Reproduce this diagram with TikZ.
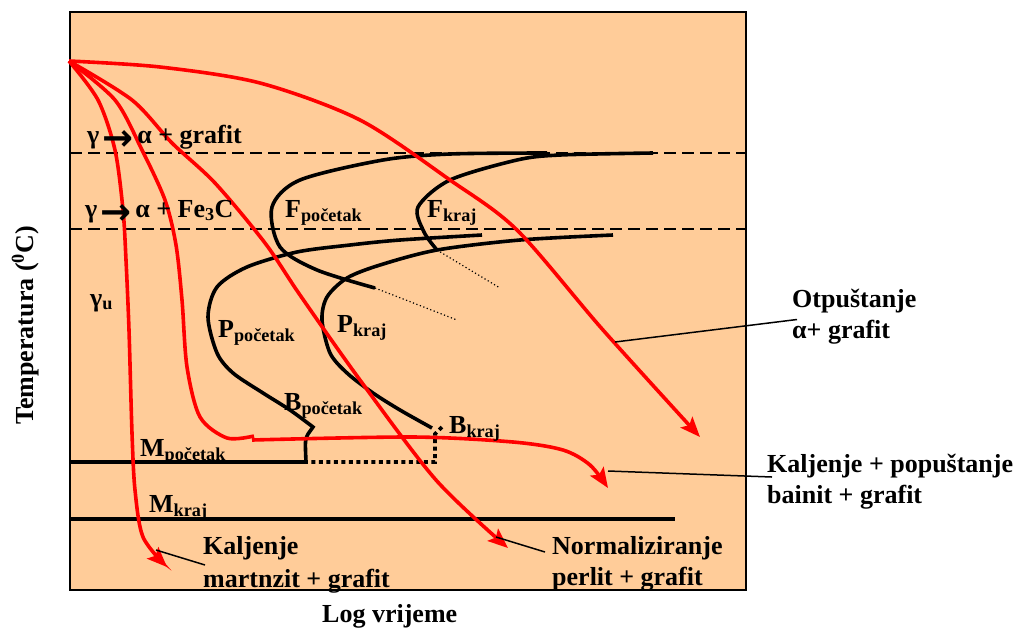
\documentclass[tikz,border=0pt]{standalone}
\usepackage{fontspec}
\setmainfont{Liberation Serif}
\newfontfamily\arrowfont{DejaVu Sans}
\usetikzlibrary{calc,arrows.meta}
\definecolor{peach}{RGB}{255,204,153}
\newcommand{\goesto}{\kern3pt\raisebox{-7pt}{\arrowfont\fontsize{37}{37}\selectfont →}\kern4pt}

\begin{document}
\begin{tikzpicture}[x=1pt,y=-1pt,
  lbl/.style={font=\bfseries\fontsize{26}{31}\selectfont,inner sep=0pt,anchor=base west},
  curve/.style={line width=3.6pt},
  cooling/.style={red,line width=3.6pt},
  cool/.style={cooling,-{Stealth[length=20pt,width=16pt,inset=4pt]}},
  leader/.style={line width=1.5pt},
  border/.style={line width=2.2pt,dash pattern=on 12pt off 6pt}]
\useasboundingbox (0,0) rectangle (1022,630);
\filldraw [fill=peach,line width=1.7pt] (70,12) rectangle (746,590);
\draw [border] (70,153) -- (746,153);
\draw [border] (70,229) -- (746,229);
% ferrit
\draw [curve] plot[smooth] coordinates {(547,153) (450,154) (383,160) (300,180) (272,207) (280,247) (317,270) (375,288)};
\draw [line width=1.2pt,dash pattern=on 1.2pt off 2.5pt] (375,288) -- (457,320);
\draw [curve] plot[smooth] coordinates {(653,153) (560,155) (517,160) (450,180) (418,207) (424,232) (437,250)};
\draw [line width=1.2pt,dash pattern=on 1.2pt off 2.5pt] (437,250) -- (500,288);
% perlit, bainit, martenzit
\draw [curve] plot[smooth] coordinates {(482,235) (400,240) (350,245) (297,252) (247,267) (217,287) (208,317) (217,353) (233,373) (263,393) (290,410) (313,427)}
  -- (308,434) .. controls (305,440) .. (306,462) -- (70,462);
\draw [curve] plot[smooth] coordinates {(613,235) (520,240) (437,250) (380,265) (347,278) (327,297) (322,320) (330,353) (347,373) (373,393) (400,410) (432,428)};
\draw [line width=3.6pt,dash pattern=on 4pt off 3.5pt] (442,427) -- (435,434) -- (435,462) -- (306,462);
\draw [curve] (70,519) -- (675,519);
% hladjenje
\draw [cool] plot[smooth] coordinates {(69,61) (160,67) (260,83) (360,120) (450,180) (517,230) (603,330) (700,437)};
\draw [cool] plot[smooth] coordinates {(69,61) (132,100) (172,143) (215,183) (265,243) (300,295) (360,380) (436,480) (508,548)};
\draw [cooling] plot[smooth] coordinates {(69,61) (115,100) (142,150) (165,200) (176,245) (182,300) (187,367) (200,417) (227,438) (254,436)};
\draw [cool] plot[smooth] coordinates {(252,440) (413,437) (513,442) (563,450) (590,465) (608,488)};
\draw [cool] plot[smooth] coordinates {(69,61) (98,100) (115,150) (123,210) (126,260) (129,330) (132,433) (135,490) (143,537) (167,567)};
% oznake
\node [lbl] (g1) at (87,143) {γ\goesto α + grafit};
\node [lbl] (g2) at (85,217) {γ\goesto α + Fe\textsubscript{3}C};
\node [lbl] (fp) at (285,217) {F\textsubscript{početak}};
\node [lbl] (fk) at (427,217) {F\textsubscript{kraj}};
\node [lbl] (pp) at (218,337) {P\textsubscript{početak}};
\node [lbl] (pk) at (337,332) {P\textsubscript{kraj}};
\node [lbl] (bp) at (284,410) {B\textsubscript{početak}};
\node [lbl] (bk) at (449,433) {B\textsubscript{kraj}};
\node [lbl] (mp) at (140,456) {M\textsubscript{početak}};
\node [lbl] (mk) at (149,512) {M\textsubscript{kraj}};
\node [lbl] (gu) at (90,306) {γ\textsubscript{u}};
\node [lbl] (ka1) at (203,554) {Kaljenje};
\node [lbl] (ka2) at (203,587) {martnzit + grafit};
\node [lbl] (no1) at (552,554) {Normaliziranje};
\node [lbl] (no2) at (552,585) {perlit + grafit};
\node [lbl] (ot1) at (792,307) {Otpuštanje};
\node [lbl] (ot2) at (792,338) {α+ grafit};
\node [lbl] (kp1) at (767,472) {Kaljenje + popuštanje};
\node [lbl] (kp2) at (767,503) {bainit + grafit};
\node [lbl] (time) at (322,622) {Log vrijeme};
\node [lbl,rotate=90] (temp) at (33,425) {Temperatura (\textsuperscript{0}C)};
% pokazivaci
\coordinate (otc) at (615,342);
\coordinate (kpc) at (608,471);
\coordinate (kac) at (156,550);
\coordinate (noc) at (496,537);
\draw [leader] (otc) -- ($(ot2.north west)+(5,0)$);
\draw [leader] (kpc) -- ($(kp1.base west)+(5,5)$);
\draw [leader] (kac) -- ($(ka1.base west)+(2,11)$);
\draw [leader] (noc) -- ($(no1.base west)+(-7,-2)$);
\end{tikzpicture}
\end{document}
